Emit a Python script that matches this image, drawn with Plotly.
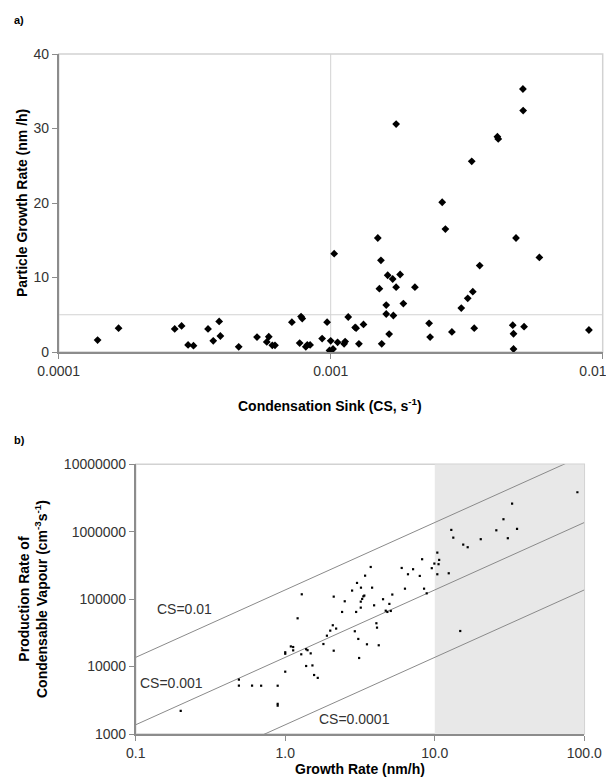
import plotly.graph_objects as go

# ---------------- Data: panel a ----------------
a_cs = [0.000139, 0.000166, 0.000267, 0.000283, 0.000299, 0.000313, 0.000354, 0.00037,
        0.000389, 0.000393, 0.000459, 0.000536, 0.000582, 0.000592, 0.00061, 0.000624,
        0.00072, 0.000778, 0.000786, 0.000769, 0.00081, 0.00082, 0.00084, 0.00093,
        0.00097, 0.00099, 0.00102, 0.001, 0.00106, 0.00112, 0.00113, 0.00103,
        0.00116, 0.00123, 0.00124, 0.00127, 0.00132, 0.00149, 0.00151, 0.00153,
        0.00154, 0.0016, 0.0016, 0.00162, 0.00164, 0.00169, 0.0017, 0.00174,
        0.00174, 0.0018, 0.00185, 0.00204, 0.0023, 0.00232, 0.00257, 0.00264,
        0.00279, 0.00302, 0.00319, 0.0033, 0.00333, 0.00337, 0.00353, 0.0041,
        0.00413, 0.00467, 0.0047, 0.0047, 0.0048, 0.00509, 0.0051, 0.00514,
        0.00585, 0.0089]
a_gr = [1.6, 3.2, 3.1, 3.5, 0.95, 0.85, 3.1, 1.5,
        4.1, 2.15, 0.7, 2.0, 1.35, 2.05, 0.9, 0.9,
        4.0, 4.75, 4.5, 1.2, 0.7, 0.95, 0.95, 1.8,
        4.0, 0.2, 0.4, 1.5, 1.3, 1.1, 1.4, 13.2,
        4.7, 3.3, 3.2, 1.1, 3.7, 15.3, 8.5, 12.3,
        1.1, 6.3, 5.1, 10.3, 2.4, 9.8, 4.9, 30.6,
        8.7, 10.4, 6.5, 8.7, 3.85, 2.0, 20.1, 16.5,
        2.7, 5.9, 7.2, 25.6, 8.1, 3.2, 11.6, 28.9,
        28.6, 3.6, 2.45, 0.4, 15.3, 35.3, 32.4, 3.4,
        12.7, 2.95]
a_xticks = [0.0001, 0.001, 0.01]
a_xticklabels = ["0.0001", "0.001", "0.01"]
a_yticks = [0, 10, 20, 30, 40]
a_ref_cs = 0.001
a_ref_gr = 5

# ---------------- Data: panel b ----------------
b_gr = [0.2, 0.49, 0.49, 0.6, 0.69, 0.89, 0.89, 0.89, 1.0, 1.0, 1.0,
        1.09, 1.13, 1.13, 1.21, 1.29, 1.28, 1.38, 1.41, 1.48, 1.38, 1.52,
        1.56, 1.65, 1.80, 1.90, 2.0, 2.08, 2.19, 2.11, 2.11, 2.40, 2.50,
        2.80, 3.02, 2.98, 2.92, 3.08, 3.12,
        3.21, 3.20, 3.27, 3.33, 3.38, 3.20, 3.42, 3.73, 3.81, 3.93, 4.07,
        4.11, 3.52, 4.22, 4.51, 4.70, 4.82, 4.97, 5.08, 5.20, 6.01, 6.32,
        6.62, 7.16, 7.94, 8.23, 8.48, 8.83, 9.55, 9.94, 10.4, 10.4, 10.6,
        10.7, 12.4, 12.9, 13.3, 14.8, 15.5, 16.6, 20.3, 25.8, 28.8, 30.8,
        32.9, 35.5, 89.9]
b_prod = [2200, 6400, 5200, 5200, 5200, 5200, 2800, 2630, 8400, 16300, 15500,
          19900, 19500, 17400, 52000, 118000, 15200, 18100, 17500, 15700, 10200, 10400,
          7500, 6800, 21600, 28700, 34100, 41000, 36600, 109000, 17200, 64600, 93000,
          134000, 174000, 64600, 33400, 25700, 13400,
          148000, 91800, 100700, 110000, 113000, 74800, 223000, 300000, 148000, 81000, 43900,
          37800, 21400, 20700, 99800, 67400, 64600, 85000, 66800, 117000, 290000, 143000,
          234000, 278000, 221000, 391000, 143000, 122000, 288000, 337000, 234000, 490000, 330000,
          382000, 242000, 1064000, 817000, 33700, 644000, 589000, 775000, 1050000, 1532000, 801000,
          2610000, 1100000, 3850000]
b_xticks = [0.1, 1, 10, 100]
b_xticklabels = ["0.1", "1.0", "10.0", "100.0"]
b_yticks = [1000, 10000, 100000, 1000000, 10000000]
b_yticklabels = ["1000", "10000", "100000", "1000000", "10000000"]
cs_lines = [0.01, 0.001, 0.0001]
cs_labels = ["CS=0.01", "CS=0.001", "CS=0.0001"]
gr_per_conc = 1.37e7          # cm^-3 per nm/h
line_gr = [0.1, 100]
shade_gr = [10, 100]

W, H = 606, 777
FONT = "Liberation Sans, Arial, sans-serif"
AX = "#8c8c8c"
BORDER = "#d2d2d2"
TXT = "#333333"

def px(x):
    return x / W

def py(y):
    return 1 - y / H

# plot area pixel boxes
A_L, A_R, A_T, A_B = 58.7, 602.7, 54, 352
B_L, B_R, B_T, B_B = 135.7, 584.3, 464.3, 734

# last label of panel a sits partly past the right edge, as in the original
a_ticktext = a_xticklabels[:-1] + [a_xticklabels[-1] + "\u00a0" * 5]

fig = go.Figure()

# --- panel a reference lines ---
fig.add_trace(go.Scatter(x=[a_ref_cs, a_ref_cs], y=[0, 40], mode="lines",
                         line=dict(color=BORDER, width=1), xaxis="x", yaxis="y",
                         hoverinfo="skip", showlegend=False))
fig.add_trace(go.Scatter(x=[a_xticks[0], a_xticks[-1]], y=[a_ref_gr, a_ref_gr], mode="lines",
                         line=dict(color=BORDER, width=1), xaxis="x", yaxis="y",
                         hoverinfo="skip", showlegend=False))
fig.add_trace(go.Scatter(x=a_cs, y=a_gr, mode="markers",
                         marker=dict(symbol="diamond", size=6, color="black"),
                         xaxis="x", yaxis="y", showlegend=False))

# --- panel b shading ---
fig.add_trace(go.Scatter(x=[shade_gr[0], shade_gr[1], shade_gr[1], shade_gr[0], shade_gr[0]],
                         y=[b_yticks[0], b_yticks[0], b_yticks[-1], b_yticks[-1], b_yticks[0]],
                         mode="lines", fill="toself", fillcolor="#e8e8e8",
                         line=dict(width=0, color="#e8e8e8"),
                         xaxis="x2", yaxis="y2", hoverinfo="skip", showlegend=False))
for cs in cs_lines:
    fig.add_trace(go.Scatter(x=line_gr, y=[g * cs * gr_per_conc for g in line_gr],
                             mode="lines", line=dict(color="#8a8a8a", width=1),
                             xaxis="x2", yaxis="y2", hoverinfo="skip", showlegend=False))
fig.add_trace(go.Scatter(x=b_gr, y=b_prod, mode="markers",
                         marker=dict(symbol="square", size=2.2, color="black"),
                         xaxis="x2", yaxis="y2", showlegend=False))

tickfont = dict(family=FONT, size=14, color=TXT)
common = dict(showline=True, linecolor=AX, linewidth=1.5, ticks="outside",
              ticklen=5, tickcolor=AX, showgrid=False, zeroline=False,
              automargin=False, tickfont=tickfont, ticklabeloverflow="allow")

fig.update_layout(
    template="none",
    width=W, height=H,
    margin=dict(l=0, r=0, t=0, b=0, autoexpand=False),
    paper_bgcolor="white", plot_bgcolor="white",
    font=dict(family=FONT, color=TXT),
    xaxis=dict(type="log", range=[-4, -2], domain=[px(A_L), px(A_R)], anchor="y",
               tickvals=a_xticks, ticktext=a_ticktext, **common),
    yaxis=dict(range=[0, 40], domain=[py(A_B), py(A_T)], anchor="x",
               tickvals=a_yticks, **common),
    xaxis2=dict(type="log", range=[-1, 2], domain=[px(B_L), px(B_R)], anchor="y2",
                tickvals=b_xticks, ticktext=b_xticklabels, **common),
    yaxis2=dict(type="log", range=[3, 7], domain=[py(B_B), py(B_T)], anchor="x2",
                tickvals=b_yticks, ticktext=b_yticklabels, **common),
)

# plot-area borders (top/right, light)
fig.add_shape(type="rect", xref="x domain", yref="y domain", x0=0, x1=1, y0=0, y1=1,
              line=dict(color=BORDER, width=1.5), layer="below")
fig.add_shape(type="rect", xref="x2 domain", yref="y2 domain", x0=0, x1=1, y0=0, y1=1,
              line=dict(color=BORDER, width=1.5), layer="below")

bold = dict(family=FONT, size=14, color="black")
ann = [
    dict(text="<b>a)</b>", x=px(12), y=py(20), xanchor="left", yanchor="middle",
         font=dict(family=FONT, size=11, color="black")),
    dict(text="<b>b)</b>", x=px(12), y=py(440), xanchor="left", yanchor="middle",
         font=dict(family=FONT, size=11, color="black")),
    dict(text="<b>Condensation Sink (CS, s<sup>-1</sup>)</b>", x=px(330), y=py(405),
         xanchor="center", yanchor="middle", font=bold),
    dict(text="<b>Particle Growth Rate (nm /h)</b>", x=px(22), y=py(203), textangle=-90,
         xanchor="center", yanchor="middle", font=bold),
    dict(text="<b>Production Rate of<br>Condensable Vapour (cm<sup>-3</sup>s<sup>-1</sup>)</b>",
         x=px(33), y=py(599), textangle=-90, xanchor="center", yanchor="middle", font=bold),
    dict(text="<b>Growth Rate (nm/h)</b>", x=px(360), y=py(769),
         xanchor="center", yanchor="middle", font=bold),
]
label_pos = [(184, 609), (171.5, 683), (354.5, 719)]
for lab, (lx, ly) in zip(cs_labels, label_pos):
    ann.append(dict(text=lab, x=px(lx), y=py(ly), xanchor="center", yanchor="middle",
                    font=dict(family=FONT, size=14, color=TXT)))
for a in ann:
    a.update(xref="paper", yref="paper", showarrow=False)
    fig.add_annotation(**a)

# remove the default page margin so the figure sits at the window's top-left corner
fig.write_html("out.html",
               config={"displayModeBar": False},
               post_script="document.body.style.margin='0';document.body.style.overflow='hidden';")
